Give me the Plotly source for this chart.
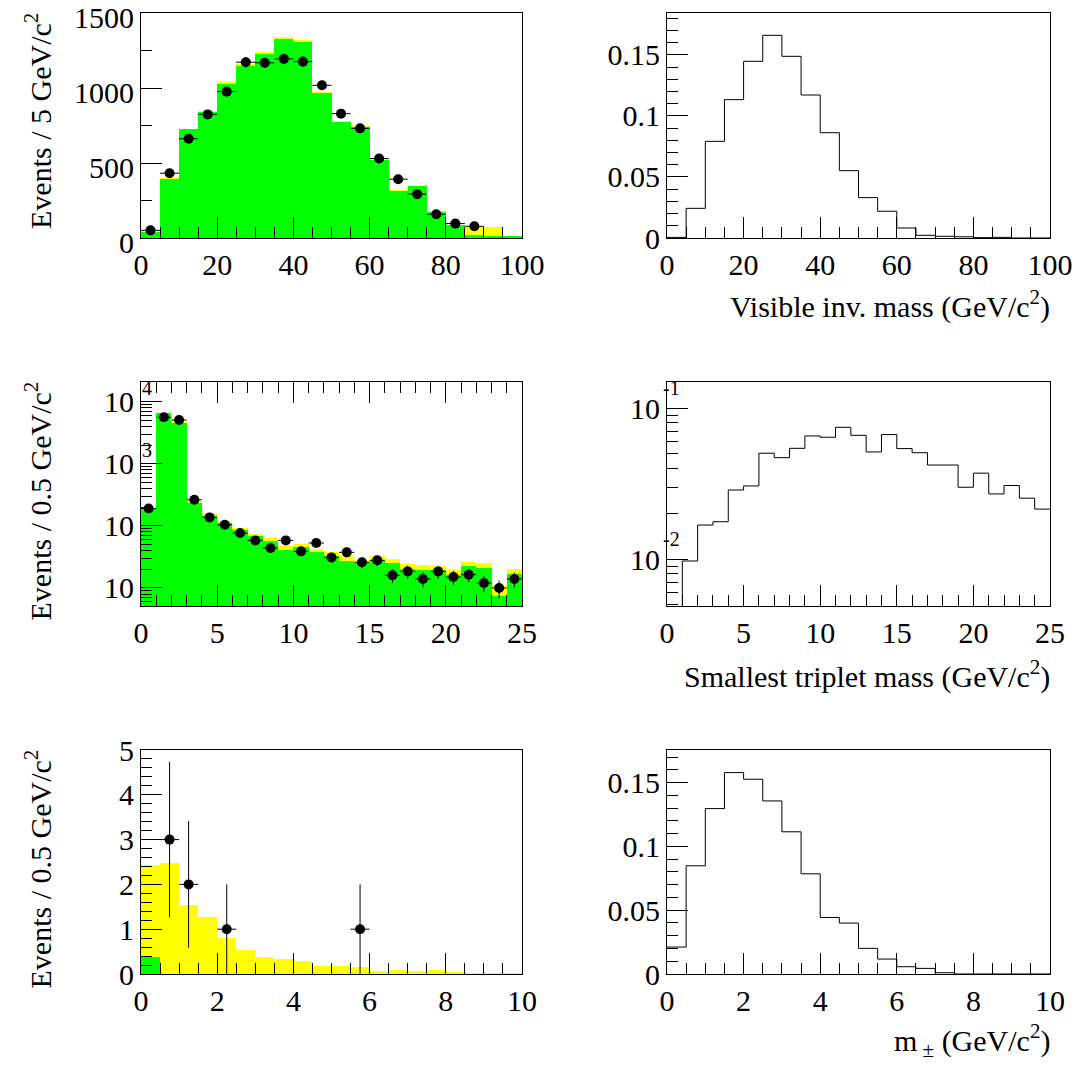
import numpy as np
import plotly.graph_objects as go

# ---------------- data ----------------
# Row 1: visible invariant mass, 20 bins of 5 GeV/c^2 (0-100)
vis_bin_width = 5.0
vis_n_bins = 20
vis_bkg_green = [42, 392, 724, 840, 1029, 1150, 1228, 1330, 1308, 967,
                 773, 737, 521, 312, 345, 174, 85, 22, 12, 7]
vis_bkg_yellow = [3, 5, 5, 6, 8, 8, 9, 10, 10, 8,
                  7, 7, 6, 5, 5, 4, 4, 54, 59, 1]
vis_data = [51, 432, 662, 824, 976, 1172, 1168, 1194, 1176, 1018,
            829, 731, 530, 392, 292, 158, 96, 78, 0, 0]
vis_signal = [0.0005, 0.0243, 0.0792, 0.1134, 0.1448, 0.1661, 0.1489, 0.1172, 0.0863, 0.0552,
              0.0331, 0.0219, 0.0082, 0.0022, 0.0014, 0.0010, 0.0003, 0.0005, 0.0, 0.0]

# Row 2: smallest triplet mass, 25 bins of 1 GeV/c^2 (0-25), log scale
tri_bin_width = 1.0
tri_n_bins = 25
tri_bkg_green = [193, 6494, 4487, 238, 142, 111, 86.7, 67.8, 57, 41.4,
                 45.6, 37.5, 32.3, 27.5, 25.3, 28.6, 25.3, 20.0, 19.7, 19.2,
                 16.4, 22.9, 21.3, 7.5, 17.0]
tri_bkg_yellow = [0, 161, 288, 18, 11, 7, 6.6, 7.0, 7.4, 5.4,
                  6.0, 4.9, 5.2, 4.8, 3.3, 3.7, 4.2, 4.0, 3.7, 3.7,
                  2.8, 3.4, 4.0, 3.8, 2.9]
tri_data = [190, 5600, 5070, 263, 137, 104, 76.6, 58.4, 44, 58.4,
            38.9, 53, 31.1, 37.5, 25.9, 27.9, 16, 18.5, 14, 18.5,
            15, 16.4, 12, 10, 14]
tri_signal = [0.0001, 0.00975, 0.01686, 0.01774, 0.02877, 0.0306, 0.0504, 0.0471, 0.0543, 0.0656,
              0.0643, 0.0748, 0.0662, 0.0514, 0.0670, 0.0541, 0.0508, 0.0421, 0.0421, 0.0300,
              0.0372, 0.0271, 0.0308, 0.0254, 0.0215]

# Row 3: m_pm, 20 bins of 0.5 GeV/c^2 (0-10)
mpm_bin_width = 0.5
mpm_n_bins = 20
mpm_bkg_green = [0.386, 0, 0, 0, 0, 0, 0, 0, 0, 0,
                 0, 0, 0, 0, 0, 0, 0, 0, 0, 0]
mpm_bkg_yellow = [2.044, 2.48, 1.545, 1.263, 0.81, 0.542, 0.386, 0.342, 0.29, 0.186,
                  0.17, 0.15, 0.06, 0.097, 0.074, 0.097, 0.03, 0.02, 0.02, 0.02]
mpm_data = [0, 3, 2, 0, 1, 0, 0, 0, 0, 0,
            0, 1, 0, 0, 0, 0, 0, 0, 0, 0]
mpm_signal = [0.0211, 0.0848, 0.1296, 0.1578, 0.1526, 0.1356, 0.1114, 0.0785, 0.0443, 0.0399,
              0.0201, 0.0117, 0.0057, 0.0044, 0.0010, 0.0, 0.0, 0.0, 0.0, 0.0]

# text
left_titles = ["Events / 5 GeV/c<sup>2</sup>", "Events / 0.5 GeV/c<sup>2</sup>",
               "Events / 0.5 GeV/c<sup>2</sup>"]
right_titles = ["Visible inv. mass (GeV/c<sup>2</sup>)",
                "Smallest triplet mass (GeV/c<sup>2</sup>)",
                "m<sub> ±</sub> (GeV/c<sup>2</sup>)"]

# ---------------- layout helpers ----------------
W, H = 1080, 1066
FONT = "Liberation Serif"
GREEN = "#00ff00"
YELLOW = "#ffff00"


def fx(p):
    return p / W


def fy(p):
    return 1 - p / H


col_px = [(141, 522), (667, 1050)]
row_px = [(13, 238), (382, 606), (750, 974)]

fig = go.Figure()


def centers(width, n):
    return (np.arange(n) + 0.5) * width


def edges(width, n):
    return np.arange(n + 1) * width


def add_bkg(ax, width, n, green, yellow):
    c = centers(width, n)
    total = np.array(green, float) + np.array(yellow, float)
    xa, ya = ax
    fig.add_trace(go.Bar(x=c, y=total, width=width, marker=dict(color=YELLOW, line=dict(width=0)),
                         xaxis=xa, yaxis=ya, showlegend=False, hoverinfo="skip"))
    fig.add_trace(go.Bar(x=c, y=green, width=width, marker=dict(color=GREEN, line=dict(width=0)),
                         xaxis=xa, yaxis=ya, showlegend=False, hoverinfo="skip"))


def add_data(ax, width, n, data):
    c = centers(width, n)
    d = np.array(data, float)
    m = d > 0
    xa, ya = ax
    fig.add_trace(go.Scatter(
        x=c[m], y=d[m], mode="markers",
        marker=dict(color="black", size=10),
        error_x=dict(type="constant", value=width / 2, color="black", thickness=1, width=0),
        error_y=dict(type="data", array=np.sqrt(d[m]), color="black", thickness=1, width=0),
        xaxis=xa, yaxis=ya, showlegend=False))


def add_step(ax, width, n, vals):
    e = edges(width, n)
    y = list(vals) + [vals[-1]]
    xa, ya = ax
    fig.add_trace(go.Scatter(x=e, y=y, mode="lines", line=dict(color="black", width=1, shape="hv"),
                             xaxis=xa, yaxis=ya, showlegend=False, hoverinfo="skip"))


add_bkg(("x", "y"), vis_bin_width, vis_n_bins, vis_bkg_green, vis_bkg_yellow)
add_data(("x", "y"), vis_bin_width, vis_n_bins, vis_data)
add_step(("x2", "y2"), vis_bin_width, vis_n_bins, vis_signal)

add_bkg(("x3", "y3"), tri_bin_width, tri_n_bins, tri_bkg_green, tri_bkg_yellow)
add_data(("x3", "y3"), tri_bin_width, tri_n_bins, tri_data)
add_step(("x4", "y4"), tri_bin_width, tri_n_bins, tri_signal)

add_bkg(("x5", "y5"), mpm_bin_width, mpm_n_bins, mpm_bkg_green, mpm_bkg_yellow)
add_data(("x5", "y5"), mpm_bin_width, mpm_n_bins, mpm_data)
add_step(("x6", "y6"), mpm_bin_width, mpm_n_bins, mpm_signal)

tickfont = dict(family=FONT, size=30, color="black")


def axis_common():
    return dict(showline=True, linecolor="black", linewidth=1, mirror=True, automargin=False,
                ticklabeloverflow="allow",
                ticks="inside", ticklen=21, tickwidth=1, tickcolor="black",
                showgrid=False, zeroline=False, tickfont=tickfont, fixedrange=True)


# panel specs: (row, col, xrange, xdtick, xminor, yrange, ydtick, yminor, ylog)
panels = [
    (0, 0, [0, 100], 20, 5, [0, 1500], 500, 250, False),
    (0, 1, [0, 100], 20, 5, [0, 0.1844], 0.05, 0.01, False),
    (1, 0, [0, 25], 5, 1, [0.71, 4.317], None, None, True),
    (1, 1, [0, 25], 5, 1, [-2.309, -0.826], None, None, True),
    (2, 0, [0, 10], 2, 0.5, [0, 5], 1, 0.2, False),
    (2, 1, [0, 10], 2, 0.5, [0, 0.1755], 0.05, 0.01, False),
]

layout = dict(width=W, height=H, autosize=False, margin=dict(l=0, r=0, t=0, b=0, pad=0),
              paper_bgcolor="white", plot_bgcolor="white",
              barmode="overlay", bargap=0, showlegend=False,
              font=dict(family=FONT, color="black"))

for i, (r, c, xr, xd, xm, yr, yd, ym, ylog) in enumerate(panels):
    k = "" if i == 0 else str(i + 1)
    x0, x1 = col_px[c]
    y0, y1 = row_px[r]
    xa = axis_common()
    xa.update(domain=[fx(x0), fx(x1)], anchor="y" + k, range=xr, dtick=xd, tick0=0,
              minor=dict(dtick=xm, tick0=0, ticks="inside", ticklen=11, tickcolor="black", tickwidth=1))
    if i == 2:
        xa["mirror"] = "ticks"
    ya = axis_common()
    ya.update(domain=[fy(y1), fy(y0)], anchor="x" + k, range=yr)
    if i == 0:
        ya["ticklabelshift"] = 4
    if ylog:
        lo, hi = int(np.floor(yr[0])), int(np.ceil(yr[1]))
        majors = [10.0 ** p for p in range(lo, hi + 1)]
        minors = [m * 10.0 ** p for p in range(lo - 1, hi + 1) for m in range(2, 10)]
        ya.update(type="log", tickmode="array", tickvals=majors, ticktext=["10"] * len(majors),
                  minor=dict(tickmode="array", tickvals=minors, ticks="inside", ticklen=11,
                             tickcolor="black", tickwidth=1))
    else:
        ya.update(dtick=yd, tick0=0,
                  minor=dict(dtick=ym, tick0=0, ticks="inside", ticklen=11, tickcolor="black", tickwidth=1))
    layout["xaxis" + k] = xa
    layout["yaxis" + k] = ya

annotations = []
# y titles of left column
for r, t in enumerate(left_titles):
    annotations.append(dict(text=t, textangle=-90, xref="paper", yref="paper",
                            x=fx(38), y=fy(row_px[r][0] - 2), xanchor="center", yanchor="top",
                            showarrow=False, font=dict(family=FONT, size=30, color="black")))
# x titles of right column
for r, (t, yc) in enumerate(zip(right_titles, [305, 674, 1040])):
    annotations.append(dict(text=t, xref="paper", yref="paper",
                            x=fx(1052), y=fy(yc), xanchor="right", yanchor="middle",
                            showarrow=False, font=dict(family=FONT, size=30, color="black")))
# log exponents drawn ROOT-style near the axis
for e in [4, 3]:
    annotations.append(dict(text=str(e), xref="x3", yref="y3", x=0, y=e, xanchor="left",
                            yanchor="middle", yshift=14, xshift=-1, showarrow=False,
                            font=dict(family=FONT, size=20, color="black")))
for e in [-1, -2]:
    annotations.append(dict(text=str(e), xref="x4", yref="y4", x=0, y=e, xanchor="left",
                            yanchor="middle", yshift=20, xshift=-6, showarrow=False,
                            font=dict(family=FONT, size=20, color="black")))
layout["annotations"] = annotations

fig.update_layout(**layout)
fig.write_html("out.html", config={"displayModeBar": False})
